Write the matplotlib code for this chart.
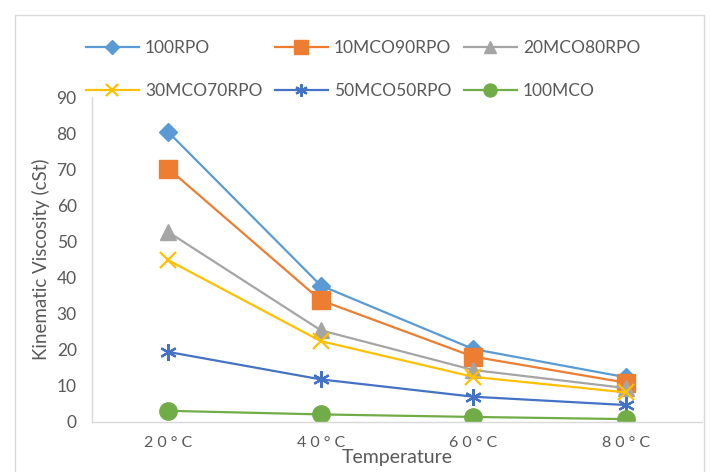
import matplotlib
matplotlib.use("Agg")
import matplotlib.pyplot as plt
from matplotlib.patches import Rectangle
from matplotlib.legend import Legend

# Data
temperatures = ["20°C", "40°C", "60°C", "80°C"]
rpo_100 = [80.3, 37.8, 20.2, 12.4]
mco10_rpo90 = [70.2, 33.7, 18.1, 10.9]
mco20_rpo80 = [52.6, 25.4, 14.4, 9.4]
mco30_rpo70 = [44.8, 22.4, 12.5, 8.2]
mco50_rpo50 = [19.4, 11.8, 7.0, 4.7]
mco_100 = [3.1, 2.1, 1.4, 0.8]

series_names = ["100RPO", "10MCO90RPO", "20MCO80RPO",
                "30MCO70RPO", "50MCO50RPO", "100MCO"]
series_values = [rpo_100, mco10_rpo90, mco20_rpo80,
                 mco30_rpo70, mco50_rpo50, mco_100]

colors = ["#5B9BD5", "#ED7D31", "#A5A5A5", "#FFC000", "#4472C4", "#70AD47"]
markers = ["D", "s", "^", "x", (6, 2, 0), "o"]
msizes = [9.5, 12.5, 12, 11, 12, 12.5]
medges = [1.0, 1.0, 1.0, 1.6, 1.6, 1.0]

plt.rcParams["font.family"] = ["Lato", "DejaVu Sans"]
text_color = "#595959"

fig = plt.figure(figsize=(7.1, 4.72), dpi=100)
W, H = 710, 472

# Chart area border
fig.patches.append(Rectangle((15 / W, -0.05), (704 - 15) / W, 1 - 15 / H + 0.05,
                             transform=fig.transFigure, fill=False,
                             edgecolor="#D9D9D9", linewidth=1.0))

ax = fig.add_axes([92 / W, (H - 422) / H, (702 - 92) / W, (422 - 97) / H])

x = list(range(len(temperatures)))
handles = []
for name, vals, c, m, ms, me in zip(series_names, series_values, colors,
                                    markers, msizes, medges):
    h, = ax.plot(x, vals, color=c, linewidth=1.6, marker=m, markersize=ms,
                 markeredgewidth=me, markerfacecolor=c, markeredgecolor=c,
                 label=name)
    handles.append(h)

ax.set_xlim(-0.5, len(temperatures) - 0.5)
ax.set_ylim(0, 90)
ax.set_yticks(range(0, 91, 10))
ax.set_xticks(x)
# letter-spaced category labels
ax.set_xticklabels(["\u2005".join(t) for t in temperatures], fontsize=11.5)

for side in ["top", "right"]:
    ax.spines[side].set_visible(False)
for side in ["left", "bottom"]:
    ax.spines[side].set_color("#D9D9D9")
    ax.spines[side].set_linewidth(1.0)

ax.tick_params(axis="both", length=0, colors=text_color)
ax.tick_params(axis="y", pad=11, labelsize=12.5)
ax.tick_params(axis="x", pad=10)

ax.set_ylabel("Kinematic Viscosity (cSt)", color=text_color, fontsize=13.5,
              labelpad=5)
ax.set_xlabel("Temperature", color=text_color, fontsize=14, labelpad=-1)

# Legend entries laid out row by row, three per row
col_x = [86, 275, 464]
row_y = [48, 91]
for i, h in enumerate(handles):
    r, c = divmod(i, 3)
    leg = Legend(fig, [h], [series_names[i]], loc="center left",
                 bbox_to_anchor=(col_x[c] / W, 1 - row_y[r] / H),
                 bbox_transform=fig.transFigure, frameon=False,
                 fontsize=12.5, handlelength=3.05, handletextpad=0.35,
                 borderpad=0, borderaxespad=0, markerscale=0.75)
    for t in leg.get_texts():
        t.set_color(text_color)
    fig.add_artist(leg)

fig.savefig("out.png", dpi=100)
